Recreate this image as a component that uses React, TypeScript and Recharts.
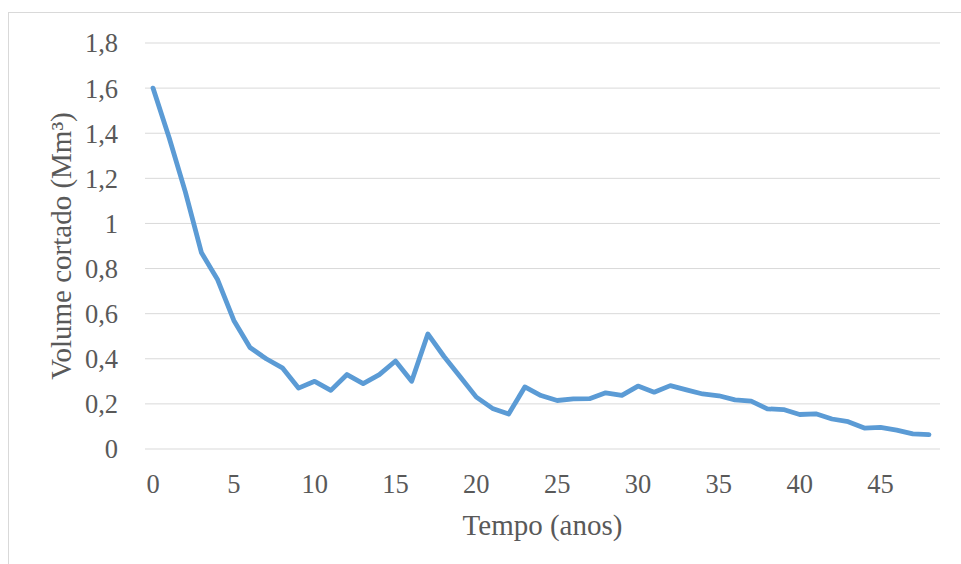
import { CartesianGrid, Label, Line, LineChart, XAxis, YAxis } from "recharts";

const years = [
  0, 1, 2, 3, 4, 5, 6, 7, 8, 9, 10, 11, 12, 13, 14, 15, 16, 17, 18, 19, 20, 21, 22, 23, 24,
  25, 26, 27, 28, 29, 30, 31, 32, 33, 34, 35, 36, 37, 38, 39, 40, 41, 42, 43, 44, 45, 46, 47, 48,
];

const volume = [
  1.6, 1.38, 1.14, 0.87, 0.75, 0.57, 0.45, 0.4, 0.36, 0.27, 0.3, 0.26, 0.33, 0.29, 0.33, 0.39,
  0.3, 0.51, 0.41, 0.32, 0.23, 0.18, 0.155, 0.275, 0.237, 0.215, 0.222, 0.223, 0.249, 0.238,
  0.279, 0.252, 0.281, 0.262, 0.244, 0.236, 0.218, 0.212, 0.178, 0.175, 0.153, 0.156, 0.133,
  0.121, 0.093, 0.096, 0.084, 0.067, 0.064,
];

const yTicks = [0, 0.2, 0.4, 0.6, 0.8, 1, 1.2, 1.4, 1.6, 1.8];

const data = years.map((t, i) => ({ t, v: volume[i] }));

const FONT = '"Liberation Serif", "Times New Roman", serif';
const INK = "#595959";

function XTick({ x, y, payload }: any) {
  return (
    <text x={x} y={y} dy="0.71em" textAnchor="middle" fill={INK} fontSize={26.5} fontFamily={FONT}>
      {payload.value}
    </text>
  );
}

function YTick({ x, y, payload }: any) {
  return (
    <text x={x} y={y} dy="0.355em" textAnchor="end" fill={INK} fontSize={26.5} fontFamily={FONT}>
      {String(payload.value).replace(".", ",")}
    </text>
  );
}

export default function App() {
  return (
    <div
      style={{
        position: "fixed",
        left: 8,
        top: 12,
        width: 960,
        height: 560,
        borderLeft: "1px solid #d9d9d9",
        borderTop: "1px solid #d9d9d9",
        background: "#fff",
        fontFamily: FONT,
      }}
    >
      <LineChart width={950} height={550} data={data} margin={{ top: 30, right: 19, left: 0, bottom: 0 }}>
        <CartesianGrid vertical={false} stroke="#d9d9d9" strokeWidth={1} />
        <XAxis
          dataKey="t"
          type="category"
          interval={4}
          height={114}
          padding={{ left: 8, right: 11 }}
          axisLine={false}
          tickLine={false}
          tickMargin={19}
          tick={<XTick />}
        >
          <Label
            content={() => (
              <text x={533.5} y={522} textAnchor="middle" fill={INK} fontSize={29} fontFamily={FONT}>
                Tempo (anos)
              </text>
            )}
          />
        </XAxis>
        <YAxis
          type="number"
          domain={[0, 1.8]}
          ticks={yTicks}
          width={136}
          axisLine={false}
          tickLine={false}
          tickMargin={21}
          tick={<YTick />}
        >
          <Label
            content={() => (
              <text
                transform="translate(62, 233) rotate(-90)"
                textAnchor="middle"
                fill={INK}
                fontSize={29}
                fontFamily={FONT}
              >
                Volume cortado (Mm³)
              </text>
            )}
          />
        </YAxis>
        <Line
          type="linear"
          dataKey="v"
          stroke="#5b9bd5"
          strokeWidth={4.8}
          strokeLinecap="round"
          strokeLinejoin="round"
          dot={false}
          isAnimationActive={false}
        />
      </LineChart>
    </div>
  );
}
